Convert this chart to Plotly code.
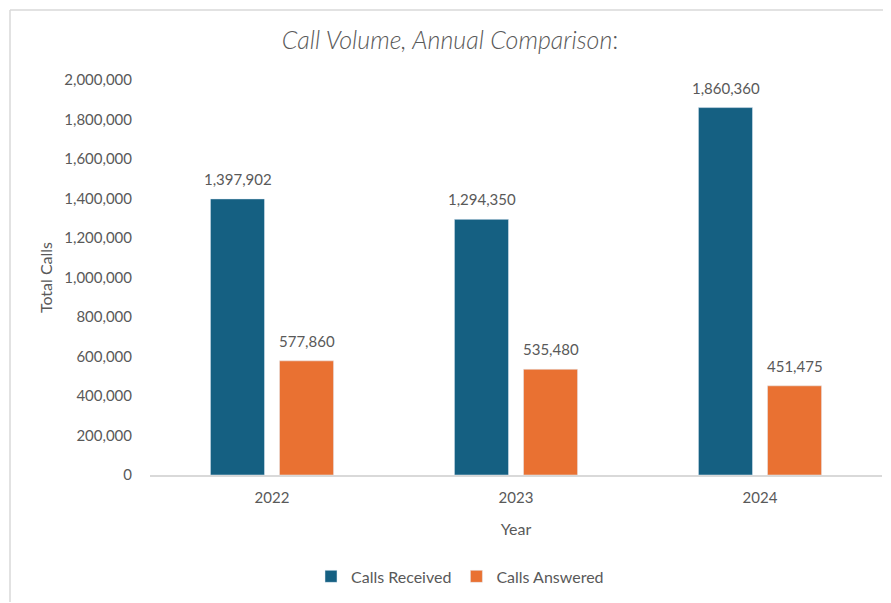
import plotly.graph_objects as go

years = ["2022", "2023", "2024"]
calls_received = [1397902, 1294350, 1860360]
calls_answered = [577860, 535480, 451475]
y_ticks = [0, 200000, 400000, 600000, 800000, 1000000, 1200000, 1400000, 1600000, 1800000, 2000000]

TXT = "#595959"
FONT = "Lato, 'Open Sans', sans-serif"
BLUE = "#156082"
ORANGE = "#E97132"

fig = go.Figure()
fig.add_trace(go.Bar(x=years, y=calls_received, name="Calls Received", marker_color=BLUE))
fig.add_trace(go.Bar(x=years, y=calls_answered, name="Calls Answered", marker_color=ORANGE))

# page body has an 8px margin; work in figure coordinates = reference pixel - 8
OFF = 8
W, H = 891 - OFF, 603 - OFF
L, R, T, B = 150 - OFF, W - (882 - OFF), 80 - OFF, H - (481 - OFF)
pw, ph = W - L - R, H - T - B

def px_x(p):
    return (p - OFF - L) / pw

def px_y(p):
    return (H - B - (p - OFF)) / ph

annotations = []
for i, v in enumerate(calls_received):
    annotations.append(dict(x=i, y=v, xref="x", yref="y", text=f"{v:,}", showarrow=False,
                            xshift=-34.5, yshift=9, yanchor="bottom",
                            font=dict(size=15, color=TXT, family=FONT)))
for i, v in enumerate(calls_answered):
    annotations.append(dict(x=i, y=v, xref="x", yref="y", text=f"{v:,}", showarrow=False,
                            xshift=34.5, yshift=9, yanchor="bottom",
                            font=dict(size=15, color=TXT, family=FONT)))

fig.update_layout(
    width=W, height=H,
    margin=dict(l=L, r=R, t=T, b=B),
    paper_bgcolor="white", plot_bgcolor="white",
    font=dict(family=FONT, color=TXT, size=15),
    barmode="group", bargap=0.434, bargroupgap=0.217,
    title=dict(text="<i>Call Volume, Annual Comparison</i>:", x=(450 - OFF) / W, xanchor="center",
               y=1 - (40 - OFF) / H, yanchor="middle",
               font=dict(size=25, color=TXT, family=FONT, weight=300)),
    showlegend=True,
    legend=dict(orientation="h", x=px_x(460), xanchor="center", y=px_y(584), yanchor="middle",
                font=dict(size=16, color=TXT), itemwidth=30, traceorder="normal"),
    xaxis=dict(type="category", range=[-0.5, len(years) - 0.5], autorange=False,
               showline=True, linecolor="#D9D9D9", linewidth=1.5, ticks="",
               ticklabelstandoff=8,
               tickfont=dict(size=15, color=TXT),
               title=dict(text="Year", font=dict(size=16, color=TXT), standoff=19)),
    yaxis=dict(range=[0, 2000000], autorange=False, tickvals=y_ticks, tickformat=",d", showgrid=False,
               zeroline=False, showline=False, ticks="", ticklabelstandoff=17,
               tickfont=dict(size=15, color=TXT),
               title=dict(text="Total Calls", font=dict(size=16, color=TXT), standoff=7)),
    annotations=annotations,
    shapes=[
        dict(type="line", xref="paper", yref="paper", x0=px_x(10), x1=px_x(900),
             y0=px_y(9), y1=px_y(9), line=dict(color="#D9D9D9", width=1.5)),
        dict(type="line", xref="paper", yref="paper", x0=px_x(10), x1=px_x(10),
             y0=px_y(9), y1=px_y(610), line=dict(color="#D9D9D9", width=1.5)),
    ],
)

fig.write_html("out.html")
